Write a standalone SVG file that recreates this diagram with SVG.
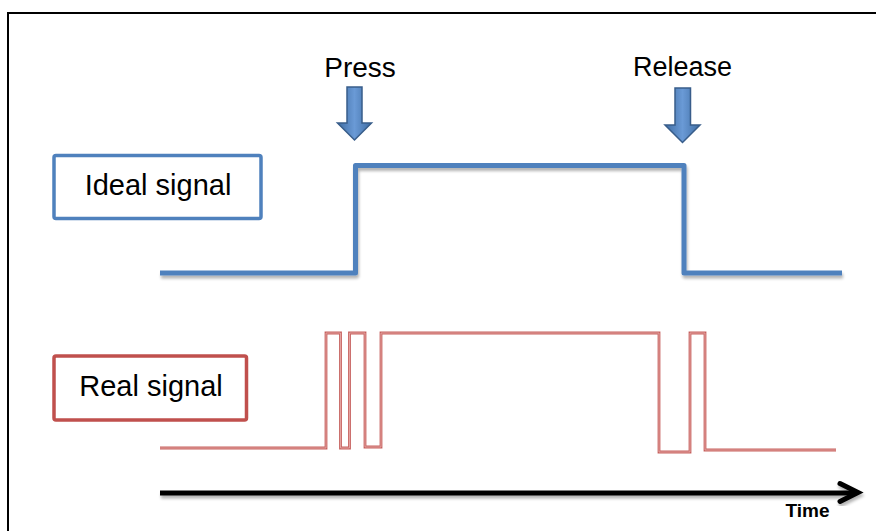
<svg xmlns="http://www.w3.org/2000/svg" width="876" height="531" viewBox="0 0 876 531">
  <defs>
    <filter id="shadow" x="-5%" y="-20%" width="110%" height="140%">
      <feGaussianBlur in="SourceAlpha" stdDeviation="1.6"/>
      <feOffset dx="1" dy="3" result="b"/>
      <feComponentTransfer><feFuncA type="linear" slope="0.3"/></feComponentTransfer>
      <feMerge><feMergeNode/><feMergeNode in="SourceGraphic"/></feMerge>
    </filter>
    <linearGradient id="shaft" x1="0" y1="0" x2="1" y2="0">
      <stop offset="0" stop-color="#3F6DA3"/>
      <stop offset="0.5" stop-color="#6A9AD6"/>
      <stop offset="1" stop-color="#3F6DA3"/>
    </linearGradient>
  </defs>
  <style>
    .label { font-family: "Liberation Sans", Arial, sans-serif; fill: #000; }
    .box { fill: #fff; stroke-width: 3.5; }
    .ideal { fill: none; stroke: #4F81BD; stroke-width: 5; stroke-linejoin: round; }
    .real { fill: none; stroke: #C0504D; stroke-width: 2.8; stroke-opacity: 0.9; }
    .real-core { fill: none; stroke: #E7A9A7; stroke-width: 0.9; }
    .marker-arrow { fill: url(#shaft); stroke: #385D8A; stroke-width: 1.5; stroke-linejoin: miter; }
  </style>

  <rect width="876" height="531" fill="#fff"/>
  <!-- outer frame -->
  <rect x="8" y="13" width="900" height="600" fill="none" stroke="#000" stroke-width="2"/>

  <g id="ideal-label">
    <rect class="box" x="54" y="155.5" width="207" height="63" rx="2" stroke="#4F81BD"/>
    <text class="label" x="158" y="195" font-size="29" text-anchor="middle">Ideal signal</text>
  </g>

  <g id="real-label">
    <rect class="box" x="54" y="356" width="192.5" height="64" rx="2" stroke="#C0504D"/>
    <text class="label" x="151" y="396" font-size="29" text-anchor="middle">Real signal</text>
  </g>

  <g id="press">
    <text class="label" x="360" y="77" font-size="28" text-anchor="middle">Press</text>
    <path class="marker-arrow" d="M347,87 H362 V123 H371.5 L354.5,140 L337.5,123 H347 Z"/>
  </g>

  <g id="release">
    <text class="label" x="682.5" y="76" font-size="27" text-anchor="middle">Release</text>
    <path class="marker-arrow" d="M675,88 H690.5 V125 H700 L682.5,142.5 L665,125 H675 Z"/>
  </g>

  <g id="connectors">
    <!-- ideal waveform -->
    <path class="ideal" filter="url(#shadow)" d="M160,273 H355.5 V165.5 H684 V273 H842"/>
    <!-- real waveform with contact bounce -->
    <g id="real-wave">
      <path class="real" d="M160,448 H326 V333 H340.5 V448 H349.5 V333 H365 V447 H381 V333 H659 V452 H690 V333 H705 V450 H836"/>
      <path class="real-core" d="M160,448 H326 V333 H340.5 V448 H349.5 V333 H365 V447 H381 V333 H659 V452 H690 V333 H705 V450 H836"/>
    </g>
    <!-- time axis -->
    <g filter="url(#shadow)" stroke="#000" stroke-width="5" fill="none">
      <path d="M160,493 H857"/>
      <path d="M840,483.5 L858,492.5 L840,501.5" stroke-linecap="round" stroke-linejoin="miter"/>
    </g>
  </g>

  <text class="label" x="807.5" y="517" font-size="19" font-weight="bold" text-anchor="middle">Time</text>
</svg>
